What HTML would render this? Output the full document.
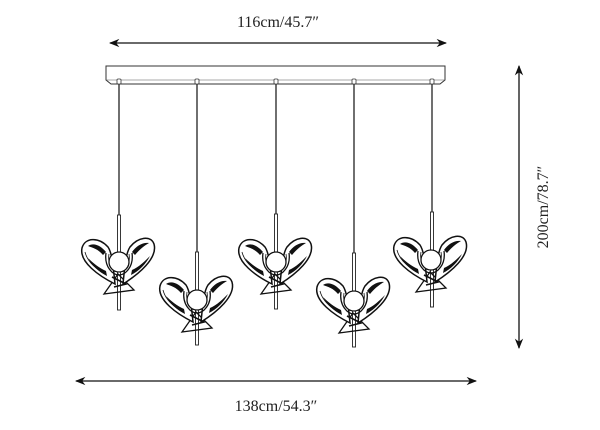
<!DOCTYPE html>
<html><head><style>
html,body{margin:0;padding:0;background:#fff;}
svg{display:block;}
text{font-family:"Liberation Serif",serif;fill:#222;}
</style></head><body>
<svg width="600" height="430" viewBox="0 0 600 430" xmlns="http://www.w3.org/2000/svg">
<defs>
<marker id="a" viewBox="0 0 10 10" refX="9" refY="5" markerWidth="8" markerHeight="8" orient="auto-start-reverse"><path d="M0,1 L10,5 L0,9 L3,5 Z" fill="#111"/></marker>
<g id="head">
  <path d="M-15,32 L15,28 L-1,12 Z" fill="none" stroke="#111" stroke-width="1.3"/>
  <path d="M-4,22 C-20,14 -40,0 -37,-14 C-34,-25 -20,-25 -11,-15 C-7,-9 -6,2 -4,22 Z" fill="#fff" stroke="#111" stroke-width="1.5"/>
  <path d="M-31,-16 C-25,-20 -18,-16 -13,-10 L-16,-7 C-21,-13 -26,-14 -31,-16Z" fill="#111"/>
  <path d="M-31,-4 C-27,4 -20,10 -12,14 L-13,9 C-20,6 -26,1 -31,-4Z" fill="#111"/>
  <path d="M-34,-10 C-32,-2 -26,4 -20,8" fill="none" stroke="#111" stroke-width="0.8"/>
  <path d="M4,22 C20,12 39,-4 35,-18 C32,-27 19,-25 11,-15 C7,-9 6,2 4,22 Z" fill="#fff" stroke="#111" stroke-width="1.5"/>
  <path d="M30,-19 C24,-20 17,-16 13,-10 L16,-7 C21,-13 25,-16 30,-19Z" fill="#111"/>
  <path d="M31,-6 C27,2 20,9 12,13 L13,8 C20,5 26,-1 31,-6Z" fill="#111"/>
  <path d="M-13,-9 C-15,5 -6,13 0,13 C6,13 15,5 13,-9" fill="none" stroke="#111" stroke-width="1.3"/>
  <path d="M-10,-8 C-12,3 -5,10 0,10 C5,10 12,3 10,-8" fill="none" stroke="#111" stroke-width="0.8"/>
  <circle cx="0" cy="0" r="10" fill="#fff" stroke="#111" stroke-width="1.3"/>
  <path d="M-7,15 L7,22 L-5,25" fill="none" stroke="#111" stroke-width="1.6"/>
</g>
</defs>
<text x="278" y="27" font-size="16" text-anchor="middle">116cm/45.7″</text>
<line x1="110" y1="43" x2="446" y2="43" stroke="#111" stroke-width="1.3" marker-start="url(#a)" marker-end="url(#a)"/>
<path d="M106,66 L445,66 L445,80 L440,84 L111,84 L106,80 Z" fill="#fff" stroke="#333" stroke-width="1"/>
<line x1="106" y1="80" x2="445" y2="80" stroke="#555" stroke-width="0.6"/>
<g stroke="#222">
  <line x1="119" y1="84" x2="119" y2="215" stroke-width="1.3"/>
  <rect x="117.5" y="215" width="3" height="95" fill="#fff" stroke-width="0.9"/>
  <line x1="197" y1="84" x2="197" y2="252" stroke-width="1.3"/>
  <rect x="195.5" y="252" width="3" height="93" fill="#fff" stroke-width="0.9"/>
  <line x1="276" y1="84" x2="276" y2="214" stroke-width="1.3"/>
  <rect x="274.5" y="214" width="3" height="95" fill="#fff" stroke-width="0.9"/>
  <line x1="354" y1="84" x2="354" y2="253" stroke-width="1.3"/>
  <rect x="352.5" y="253" width="3" height="94" fill="#fff" stroke-width="0.9"/>
  <line x1="432" y1="84" x2="432" y2="212" stroke-width="1.3"/>
  <rect x="430.5" y="212" width="3" height="95" fill="#fff" stroke-width="0.9"/>
</g>
<g fill="#fff" stroke="#333" stroke-width="0.8">
  <rect x="117" y="79" width="4" height="5" rx="1"/><rect x="195" y="79" width="4" height="5" rx="1"/>
  <rect x="274" y="79" width="4" height="5" rx="1"/><rect x="352" y="79" width="4" height="5" rx="1"/>
  <rect x="430" y="79" width="4" height="5" rx="1"/>
</g>
<use href="#head" x="119" y="262"/>
<use href="#head" x="197" y="300"/>
<use href="#head" x="276" y="262"/>
<use href="#head" x="354" y="301"/>
<use href="#head" x="431" y="260"/>
<line x1="519" y1="66" x2="519" y2="348" stroke="#111" stroke-width="1.3" marker-start="url(#a)" marker-end="url(#a)"/>
<text x="0" y="0" font-size="16" text-anchor="middle" transform="translate(548,207) rotate(-90)">200cm/78.7″</text>
<line x1="76" y1="381" x2="476" y2="381" stroke="#111" stroke-width="1.3" marker-start="url(#a)" marker-end="url(#a)"/>
<text x="276" y="411" font-size="16" text-anchor="middle">138cm/54.3″</text>
</svg>
</body></html>
